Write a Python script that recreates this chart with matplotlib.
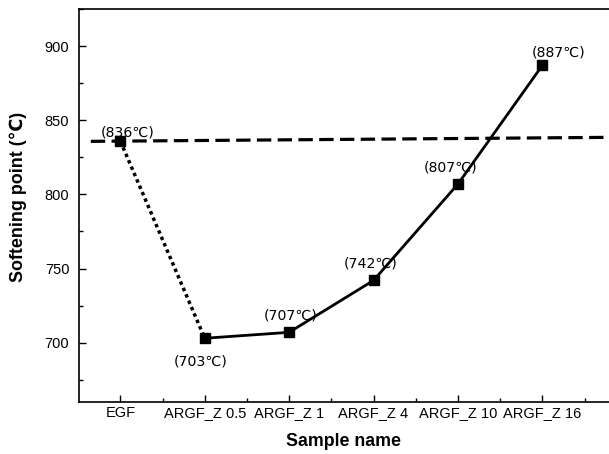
import matplotlib
matplotlib.use("Agg")
import matplotlib.pyplot as plt
from matplotlib.ticker import MultipleLocator

samples = ["EGF", "ARGF_Z 0.5", "ARGF_Z 1", "ARGF_Z 4", "ARGF_Z 10", "ARGF_Z 16"]
softening = [836, 703, 707, 742, 807, 887]
labels = ["(836℃)", "(703℃)", "(707℃)", "(742℃)", "(807℃)", "(887℃)"]
# label offsets in points
label_offsets = [(5, 6), (-3, -17), (1, 12), (-2, 12), (-5, 12), (12, 9)]

# reference (EGF) level drawn as dashed line
ref_x = [-0.35, 5.8]
ref_y = [835.8, 838.5]

xs = list(range(len(samples)))

fig = plt.figure(figsize=(6.09, 4.54), dpi=100)
ax = fig.add_axes([0.1297, 0.1145, 0.8703, 0.8655])

ax.plot(ref_x, ref_y, color="black", lw=2.3, ls=(0, (4.5, 2)), zorder=2)
ax.plot(xs[:2], softening[:2], color="black", lw=2.5, ls=(0, (1, 1)), zorder=3)
ax.plot(xs[1:], softening[1:], color="black", lw=2, ls="-", zorder=3)
ax.plot(xs, softening, ls="none", marker="s", ms=7.5, color="black", zorder=4)

for x, y, t, off in zip(xs, softening, labels, label_offsets):
    ax.annotate(t, (x, y), xytext=off, textcoords="offset points",
                ha="center", va="center", fontsize=10.2,
                family=["DejaVu Sans"], zorder=5)

ax.set_xlim(-0.49, 5.79)
ax.set_ylim(660, 925)
ax.set_xticks(xs)
ax.set_xticklabels(samples, family=["Liberation Sans", "DejaVu Sans"], fontsize=10.5)
ax.xaxis.set_minor_locator(MultipleLocator(0.5))
ax.yaxis.set_major_locator(MultipleLocator(50))
ax.yaxis.set_minor_locator(MultipleLocator(25))
for lab in ax.get_yticklabels():
    lab.set_family(["Liberation Sans", "DejaVu Sans"])
    lab.set_fontsize(10.5)
ax.tick_params(which="major", direction="in", length=5, width=1)
ax.tick_params(axis="y", which="major", pad=7)
ax.tick_params(axis="x", which="major", pad=3)
ax.tick_params(which="minor", direction="in", length=3, width=1)
ax.tick_params(top=False, right=False, which="both")
ax.spines["right"].set_visible(False)
for s in ["left", "bottom", "top"]:
    ax.spines[s].set_linewidth(1.2)

ax.set_xlabel("Sample name", fontsize=12.8, fontweight="bold",
              family=["Liberation Sans", "DejaVu Sans"], labelpad=9)
ax.set_ylabel("Softening point (℃)", fontsize=12.9, fontweight="bold",
              family=["Liberation Sans", "DejaVu Sans"])
ax.yaxis.set_label_coords(-0.098, 0.522)

fig.savefig("out.png", dpi=100)
